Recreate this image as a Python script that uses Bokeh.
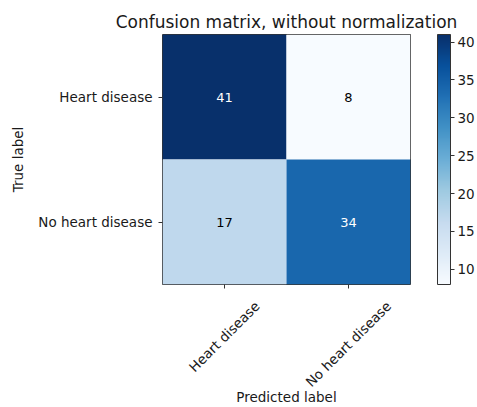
import math
from bokeh.plotting import figure
from bokeh.models import (LinearColorMapper, ColumnDataSource, FixedTicker,
                          Range1d, ColorBar)
from bokeh.transform import transform
from bokeh.palettes import Blues256
from bokeh.core.properties import value
from bokeh.embed import file_html
from bokeh.resources import INLINE

classes = ["Heart disease", "No heart disease"]
true_labels = ["Heart disease", "Heart disease", "No heart disease", "No heart disease"]
pred_labels = ["Heart disease", "No heart disease", "Heart disease", "No heart disease"]
counts = [41, 8, 17, 34]
cbar_ticks = [10, 15, 20, 25, 30, 35, 40]

FONT = "DejaVu Sans"
TXT = "#1a1a1a"
LINE = "#333333"
LBL = "13.5px"
FRAME_W = 248

n = len(classes)
thresh = max(counts) / 2.0
src = ColumnDataSource(dict(
    x=[classes.index(c) + 0.5 for c in pred_labels],
    y=[n - 1 - classes.index(c) + 0.5 for c in true_labels],
    count=counts,
    label=[str(c) for c in counts],
    tcolor=["white" if c > thresh else "black" for c in counts],
))

mapper = LinearColorMapper(palette=list(reversed(Blues256)),
                           low=min(counts), high=max(counts))

p = figure(width=477, height=407, x_range=Range1d(0, n), y_range=Range1d(0, n),
           output_backend="svg", toolbar_location=None,
           title="Confusion matrix, without normalization",
           min_border_left=162, min_border_top=34, min_border_right=0,
           min_border_bottom=0)
p.title.align = "center"
p.title.text_font = FONT
p.title.text_font_size = "17px"
p.title.text_font_style = "normal"
p.title.text_color = TXT
p.title.standoff = 5

p.rect(x="x", y="y", width=1, height=1, source=src,
       fill_color=transform("count", mapper), line_color=None)
p.text(x="x", y="y", text="label", source=src, text_color="tcolor",
       text_align="center", text_baseline="middle", text_font=value(FONT),
       text_font_size="13px")

p.grid.visible = False
p.outline_line_color = LINE
p.outline_line_width = 1

# ---- y axis (true label) ----
ya = p.yaxis[0]
ya.ticker = FixedTicker(ticks=[i + 0.5 for i in range(n)])
ya.major_label_overrides = {n - 1 - i + 0.5: c for i, c in enumerate(classes)}
ya.axis_label = "True label"
ya.axis_label_standoff = 9
ya.major_label_standoff = 6

# ---- x axis (predicted label): minor ticks at the cells, rotated labels
# centred on each cell like matplotlib (bokeh anchors them at their right end)
char_w = 7.1
px_per_unit = FRAME_W / n
label_pos = [round(i + 0.5 + (char_w * len(c)) / (2 * math.sqrt(2)) / px_per_unit, 4)
             for i, c in enumerate(classes)]
xa = p.xaxis[0]
xa.ticker = FixedTicker(ticks=label_pos, minor_ticks=[i + 0.5 for i in range(n)])
xa.major_label_overrides = {pos: c for pos, c in zip(label_pos, classes)}
xa.major_label_orientation = math.pi / 4
xa.major_tick_out = 0
xa.major_tick_in = 0
xa.major_tick_line_color = None
xa.minor_tick_out = 4
xa.minor_tick_in = 0
xa.minor_tick_line_color = LINE
xa.major_label_standoff = 15
xa.axis_label = "Predicted label"
xa.axis_label_standoff = -10

for ax in (xa, ya):
    ax.axis_line_color = None
    ax.major_label_text_font = FONT
    ax.major_label_text_font_size = LBL
    ax.major_label_text_color = TXT
    ax.axis_label_text_font = FONT
    ax.axis_label_text_font_size = LBL
    ax.axis_label_text_font_style = "normal"
    ax.axis_label_text_color = TXT
ya.major_tick_in = 0
ya.major_tick_out = 4
ya.minor_tick_line_color = None
ya.major_tick_line_color = LINE

# ---- gap between matrix and colour bar: an invisible colour bar ----
spacer = ColorBar(color_mapper=mapper, width=27, padding=0, margin=0,
                  scale_alpha=0, bar_line_color=None,
                  ticker=FixedTicker(ticks=[]), major_tick_out=0, major_tick_in=0,
                  major_tick_line_color=None, minor_tick_line_color=None,
                  label_standoff=0, background_fill_alpha=0,
                  border_line_color=None)
p.add_layout(spacer, "right")

cb = ColorBar(color_mapper=mapper, width=13, padding=0, margin=0,
              ticker=FixedTicker(ticks=cbar_ticks),
              major_tick_in=0, major_tick_out=4,
              major_tick_line_color=LINE, minor_tick_line_color=None,
              bar_line_color=LINE,
              major_label_text_font=FONT,
              major_label_text_font_size=LBL,
              major_label_text_color=TXT,
              label_standoff=3,
              background_fill_alpha=0)
p.add_layout(cb, "right")

open("out.html", "w").write(file_html(p, INLINE))
